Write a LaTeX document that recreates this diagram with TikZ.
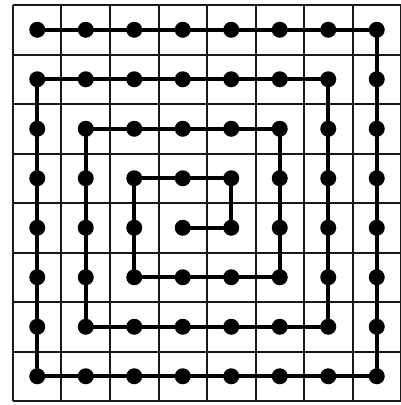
\documentclass[tikz,border=0pt]{standalone}
\usepackage{tikz}
\usetikzlibrary{calc}

\begin{document}
\begin{tikzpicture}[x=48.5pt, y=-49.5pt, cell/.style={line width=2pt, black!90}, dot/.style={circle, fill=black, inner sep=0pt, minimum size=16pt}, walk/.style={line width=4pt, line join=round}]
\useasboundingbox (-13pt,5pt) rectangle (388pt,-400pt);
% grid
\foreach \i in {0,...,8} {
  \draw[cell] (\i,0)--(\i,8);
  \draw[cell] (0,\i)--(8,\i);
}
% dots
\foreach \c in {0,...,7} {
  \foreach \r in {0,...,7} {
    \node[dot] (p\c\r) at (\c+0.5,\r+0.5) {};
  }
}
% spiral
\draw[walk] (p00.center)--(p70.center)--(p77.center)--(p07.center)--(p01.center)
  --(p61.center)--(p66.center)--(p16.center)--(p12.center)--(p52.center)
  --(p55.center)--(p25.center)--(p23.center)--(p43.center)--(p44.center)--(p34.center);
\end{tikzpicture}
\end{document}
